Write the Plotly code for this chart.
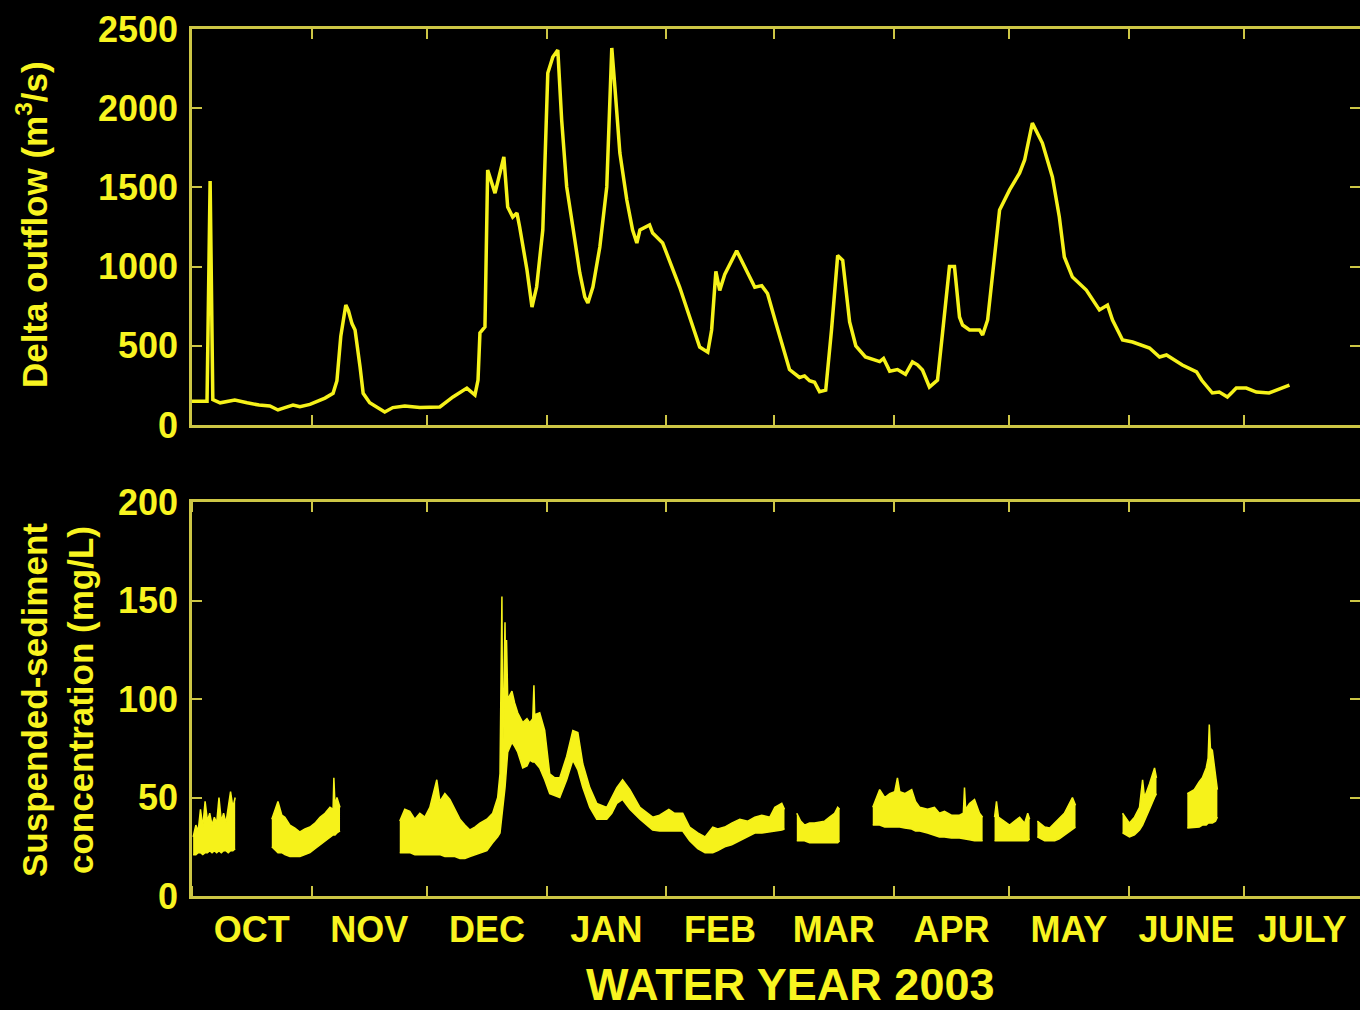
import pandas as pd
import plotly.graph_objects as go

WY_START = pd.Timestamp("2002-10-01")

# ---------------- Delta outflow (m3/s), day of water year 2003 ----------------
flow_day = [0, 2.1, 3.9, 4.7, 5.4, 7.3, 11.1, 14.3, 17.4, 20.2, 22.3, 24.1, 26.2, 28.0,
            30.6, 34.5, 36.6, 37.6, 38.6, 39.9, 40.6, 41.5, 42.3, 43.6, 44.4, 46.1, 48.2,
            50.0, 52.1, 55.2, 59.1, 64.3, 67.7, 71.3, 73.4, 74.2, 74.7, 76.0, 76.7, 78.6,
            80.9, 81.9, 83.2, 84.3, 85.0, 86.9, 88.2, 89.4, 91.0, 92.3, 93.6, 94.9, 95.9,
            97.2, 98.8, 100.6, 101.9, 102.7, 104.0, 105.8, 107.6, 108.4, 108.9, 109.7,
            111.0, 112.8, 114.3, 115.4, 116.2, 118.7, 119.5, 122.1, 126.5, 131.7, 133.8,
            134.8, 135.9, 136.9, 138.2, 141.3, 143.4, 146.0, 147.8, 149.3, 151.4, 153.2,
            155.0, 157.6, 158.9, 160.2, 161.5, 162.8, 164.4, 165.9, 167.5, 168.8, 170.6,
            172.2, 174.7, 178.4, 179.4, 181.0, 183.0, 185.1, 186.9, 188.2, 189.5, 191.3,
            193.4, 194.7, 196.5, 197.8, 199.1, 199.9, 201.7, 204.3, 205.1, 206.4, 209.5,
            212.1, 214.7, 216.0, 218.0, 220.6, 223.2, 225.0, 226.3, 228.4, 232.0, 235.4,
            237.5, 238.8, 241.4, 244.0, 248.4, 251.0, 252.8, 256.9, 260.6, 261.9, 264.7,
            266.5, 268.6, 269.9, 270.9, 273.5, 276.1, 279.4, 281.2, 284.7]
flow_val = [150, 150, 150, 1540, 160, 140, 158, 140, 126, 120, 95, 110, 126, 115,
            130, 170, 200, 280, 560, 757, 720, 640, 600, 366, 200, 140, 110,
            82, 110, 120, 110, 114, 177, 233, 189, 284, 581, 619, 1610, 1464,
            1692, 1376, 1313, 1338, 1250, 979, 745, 871, 1231, 2222, 2323, 2367, 1925,
            1503, 1250, 960, 808, 770, 871, 1124, 1503, 2134, 2380, 2134,
            1717, 1420, 1231, 1149, 1231, 1263, 1212, 1149, 871, 492, 460,
            600, 970, 850, 950, 1100, 1000, 870, 880, 830, 650, 500,
            350, 300, 310, 280, 270, 210, 220, 600, 1070, 1040, 650,
            500, 430, 400, 420, 340, 350, 320, 398, 380, 347, 240,
            284, 581, 1000, 1000, 682, 631, 600, 600, 568, 663, 1357,
            1484, 1591, 1673, 1906, 1780, 1566, 1313, 1061, 934, 852, 726,
            757, 663, 537, 524, 486, 429, 442, 379, 335, 284, 202,
            208, 177, 208, 233, 233, 208, 202, 221, 252]

# ------- Suspended-sediment concentration (mg/L): envelope of the record -------
# None marks a gap in the record
ssc_day = [0.3, 1.0, 1.6, 2.2, 2.8, 3.4, 4.0, 4.6, 5.2, 5.8, 6.4, 7.0, 7.6, 8.2, 8.8, 9.4, 10.0, 10.6, 11.2,
           None,
           20.7, 21.8, 22.3, 23.3, 24.1, 25.4, 26.7, 28.0, 29.3, 30.6, 31.9, 33.2, 34.5, 35.8, 36.6, 36.8, 37.1, 37.6, 38.4,
           None,
           53.9, 55.2, 56.5, 57.8, 59.1, 60.4, 61.7, 63.5, 64.3, 65.6, 66.9, 68.2, 69.5, 70.8, 72.1, 73.4, 74.7,
           76.5, 78.0, 79.3, 79.9, 80.4, 80.6, 81.2, 81.4, 81.6, 81.9, 83.0, 83.7, 84.5, 85.8, 86.9, 87.6, 88.4,
           88.7, 88.9, 90.2, 91.5, 92.8, 94.1, 95.4, 97.2, 98.8, 100.1, 101.4, 103.2, 105.0, 107.6, 108.9, 110.2,
           111.7, 113.6, 116.2, 119.5, 121.3, 123.7, 125.2, 127.3, 129.1, 131.2, 133.1, 135.1, 136.4, 138.2, 140.0,
           142.1, 144.2, 146.0, 147.8, 149.9, 151.2, 153.0, 153.7,
           None,
           156.9, 157.9, 158.9, 160.2, 161.5, 162.8, 164.1, 165.4, 166.7, 167.5, 168.0,
           None,
           176.6, 177.6, 178.4, 179.7, 181.0, 182.3, 183.0, 183.6, 184.9, 186.7, 187.7, 188.8, 190.8, 192.6, 193.9,
           195.2, 197.0, 199.1, 200.1, 200.4, 200.7, 201.7, 203.0, 204.3, 205.1,
           None,
           208.2, 208.7, 209.2, 210.8, 212.1, 213.4, 214.7, 216.0, 216.8, 217.3,
           None,
           219.3, 221.2, 222.5, 223.8, 225.0, 226.3, 227.1, 228.4, 229.2,
           None,
           241.4, 242.4, 243.2, 244.5, 245.8, 246.6, 247.1, 248.4, 249.7, 250.2,
           None,
           258.2, 260.0, 261.3, 262.1, 263.1, 263.6, 263.9, 264.2, 264.7, 265.5, 266.0]
ssc_low = [21, 21, 22, 22, 21, 22, 22, 23, 22, 23, 22, 23, 22, 23, 23, 22, 23, 23, 24,
           None,
           25, 23, 22, 22, 21, 20, 20, 20, 21, 22, 24, 26, 28, 30, 31, 31, 31, 32, 33,
           None,
           22, 22, 22, 21, 21, 21, 21, 21, 21, 20, 20, 20, 19, 19, 20, 21, 22,
           23, 27, 30, 32, 40, 45, 55, 60, 65, 73, 78, 76, 73, 65, 66, 69, 68,
           68, 68, 65, 59, 52, 51, 50, 59, 69, 64, 55, 45, 39, 39, 42, 47,
           49, 44, 39, 33.5, 33, 33, 33, 33, 28, 24, 22, 22, 23, 25, 26,
           28, 30, 32, 32, 32.5, 33, 33.5, 34,
           None,
           28, 28, 28, 27, 27, 27, 27, 27, 27, 27, 28,
           None,
           36, 36, 36, 35, 35, 35, 35, 35, 34.5, 34, 33, 33, 32, 31, 30,
           30, 29.5, 29.5, 29, 29, 29, 28.5, 28, 28, 28,
           None,
           28, 28, 28, 28, 28, 28, 28, 28, 28, 29,
           None,
           30, 28, 28, 28, 29, 31, 32, 34, 35,
           None,
           32, 31, 30, 31, 33.5, 36, 38, 44, 50, 52,
           None,
           34.5, 35, 35, 36, 36, 37, 37, 37, 37, 38, 40]
ssc_high = [30, 36, 33, 44, 35, 48, 38, 42, 36, 40, 37, 50, 38, 42, 37, 46, 53, 45, 50,
            None,
            39, 46, 48, 41, 40, 36, 34.5, 32.5, 34, 35, 37, 40, 42, 45, 44, 60, 46, 50, 45,
            None,
            38, 44, 43, 39, 42, 40, 45, 59, 48, 52, 49, 44, 39, 36, 33.5, 35, 37,
            39, 42, 50, 62, 152, 70, 139, 100, 130, 100, 104, 98, 93, 88, 90, 88, 90,
            107, 92, 93, 84, 62, 60, 60, 71, 84, 83, 67, 55, 47, 45, 50, 55,
            59, 54, 45, 40, 41, 44, 42, 42, 35, 32, 30, 35, 34, 35, 37,
            39, 38, 40, 41, 40, 45, 47, 44,
            None,
            42, 38, 36, 37, 37, 37.5, 38, 40, 42, 45, 44,
            None,
            45, 50, 54, 50, 52, 53, 60, 53, 52, 54, 48, 45, 44, 45, 42,
            43, 41, 41, 42, 55, 44, 47, 49, 42, 40,
            None,
            40, 48, 40, 38, 36, 38, 40, 37, 42, 39,
            None,
            38, 35, 34.5, 37, 39, 42, 45, 50, 46,
            None,
            42, 39, 37, 40, 45, 59, 50, 57, 65, 60,
            None,
            52, 54, 58, 60, 65, 70, 87, 75, 74, 62, 54]

# ---------------- axis text ----------------
month_abbr = ["Oct", "Nov", "Dec", "Jan", "Feb", "Mar", "Apr", "May", "Jun", "Jul"]
month_labels = ["OCT", "NOV", "DEC", "JAN", "FEB", "MAR", "APR", "MAY", "JUNE", "JULY"]
flow_ticks = [0, 500, 1000, 1500, 2000, 2500]
ssc_ticks = [0, 50, 100, 150, 200]

YELLOW = "#f6f21a"
TEXT = "#f8f420"
AXIS = "#cdc645"
FONT = "Liberation Sans, Arial, Helvetica, sans-serif"


def to_dates(days):
    return [WY_START + pd.to_timedelta(d, unit="D") for d in days]


fig = go.Figure()

fig.add_trace(go.Scatter(x=to_dates(flow_day), y=flow_val, mode="lines",
                         line=dict(color=YELLOW, width=3.5), xaxis="x", yaxis="y",
                         showlegend=False, hoverinfo="skip"))

# split SSC record into segments at gaps
segments, cur = [], []
for d, lo, hi in zip(ssc_day, ssc_low, ssc_high):
    if d is None:
        segments.append(cur)
        cur = []
    else:
        cur.append((d, lo, hi))
segments.append(cur)

for seg in segments:
    dates = to_dates([s[0] for s in seg])
    fig.add_trace(go.Scatter(x=dates, y=[s[1] for s in seg], mode="lines",
                             line=dict(color=YELLOW, width=1.5), xaxis="x2", yaxis="y2",
                             showlegend=False, hoverinfo="skip"))
    fig.add_trace(go.Scatter(x=dates, y=[s[2] for s in seg], mode="lines",
                             line=dict(color=YELLOW, width=1.5), fill="tonexty",
                             fillcolor=YELLOW, xaxis="x2", yaxis="y2",
                             showlegend=False, hoverinfo="skip"))

xrange = [WY_START, pd.Timestamp("2003-07-31")]
common_x = dict(type="date", range=xrange, tick0="2002-10-01", dtick="M1",
                ticks="inside", ticklen=10, tickwidth=2, tickcolor=AXIS,
                showline=True, linecolor=AXIS, linewidth=2.5, mirror="ticks",
                showgrid=False, zeroline=False, automargin=False)
common_y = dict(ticks="inside", ticklen=10, tickwidth=2, tickcolor=AXIS,
                showline=True, linecolor=AXIS, linewidth=2.5, mirror="ticks",
                showgrid=False, zeroline=False, tickmode="array", automargin=False,
                tickfont=dict(family=FONT, size=36, color=TEXT, weight="bold"),
                ticklabelstandoff=4)

H = 1010.0
fig.update_layout(
    width=1360, height=1010,
    margin=dict(l=192, r=0, t=0, b=0),
    paper_bgcolor="black", plot_bgcolor="black",
    showlegend=False,
    xaxis=dict(common_x, anchor="y", domain=[0, 1], showticklabels=False, matches="x2"),
    yaxis=dict(common_y, anchor="x", domain=[1 - 425 / H, 1 - 29 / H],
               range=[0, 2500], tickvals=flow_ticks),
    xaxis2=dict(common_x, anchor="y2", domain=[0, 1], ticklabelmode="period",
                tickformat="%b", labelalias=dict(zip(month_abbr, month_labels)),
                tickfont=dict(family=FONT, size=36, color=TEXT, weight="bold"),
                ticklabelstandoff=0),
    yaxis2=dict(common_y, anchor="x2", domain=[1 - 896 / H, 1 - 502 / H],
                range=[0, 200], tickvals=ssc_ticks),
    annotations=[
        dict(text="Delta outflow (m<sup>3</sup>/s)", xref="paper", yref="paper",
             x=(32 - 192) / 1168, y=1 - 225 / H, textangle=-90, showarrow=False,
             xanchor="center", yanchor="middle",
             font=dict(family=FONT, size=35, color=TEXT, weight="bold")),
        dict(text="Suspended-sediment<br>concentration (mg/L)", xref="paper", yref="paper",
             x=(57 - 192) / 1168, y=1 - 700 / H, textangle=-90, showarrow=False,
             xanchor="center", yanchor="middle",
             font=dict(family=FONT, size=35, color=TEXT, weight="bold")),
        dict(text="WATER YEAR 2003", xref="paper", yref="paper",
             x=(790 - 192) / 1168, y=1 - 984 / H, showarrow=False,
             xanchor="center", yanchor="middle",
             font=dict(family=FONT, size=45, color=TEXT, weight="bold")),
    ],
)

fig.write_html("out.html", config={"displayModeBar": False},
               post_script="document.body.style.margin='0';")
